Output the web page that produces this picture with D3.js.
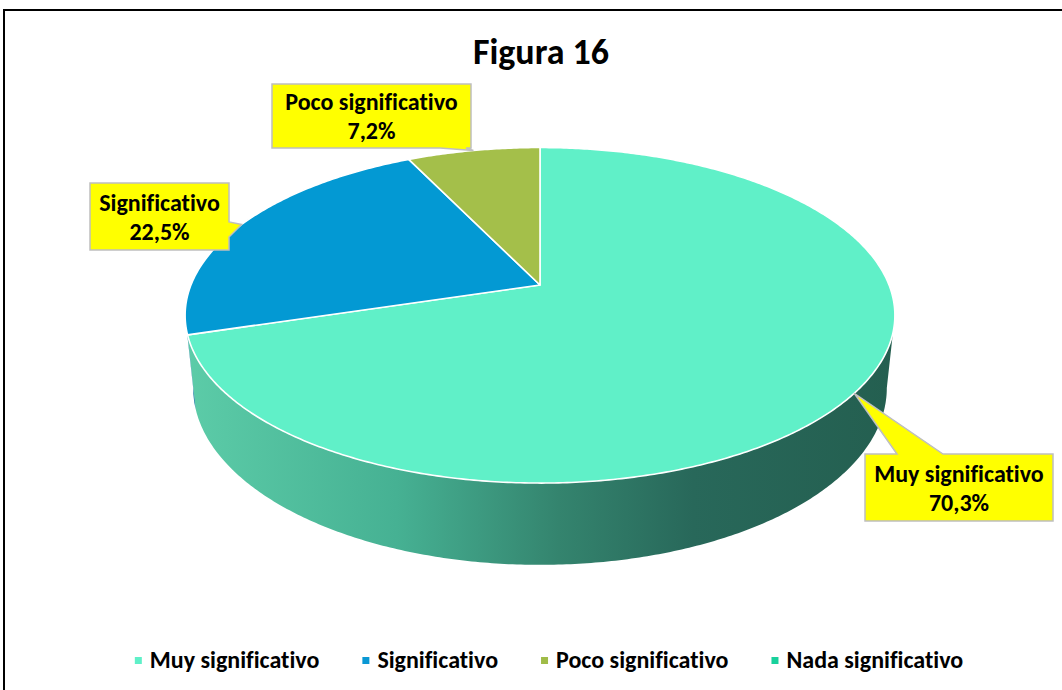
<!DOCTYPE html>
<html><head><meta charset="utf-8">
<script src="https://cdn.jsdelivr.net/npm/d3@7"></script>
<style>body{margin:0;background:#fff} svg{display:block} text{font-variant-ligatures:none;font-feature-settings:"liga" 0}</style>
</head><body>
<svg id="c" width="1062" height="690"></svg>
<script>
const categories = ["Muy significativo", "Significativo", "Poco significativo", "Nada significativo"];
const values = [70.3, 22.5, 7.2, 0];
const topColors = ["#60f0c8", "#0399d3", "#a4bf4a", "#1ccf9c"];
const legendColors = ["#5ff0c8", "#0a98d4", "#a0bc48", "#19d19c"];
const title = "Figura 16";

const FONT = "Carlito, Calibri, Lato, 'Open Sans', sans-serif";
const svg = d3.select("#c");

// outer border
svg.append("rect").attr("x", 4).attr("y", 10).attr("width", 1120).attr("height", 720)
  .attr("fill", "#fff").attr("stroke", "#000").attr("stroke-width", 2);

// title
svg.append("text").attr("x", 541).attr("y", 64).attr("text-anchor", "middle")
  .attr("font-family", FONT).attr("font-weight", 700).attr("font-size", 36).attr("fill", "#000")
  .text(title);

// 3D perspective projection of the pie disc
const cam = { cx: 540, cy: 285, f: 1711, R: 0.204, h: 0.0484, phi: Math.asin(0.465) };
function proj(theta, level) {
  const X = cam.R * Math.sin(theta), Z = cam.R * Math.cos(theta), Y = level ? -cam.h : 0;
  const D = 1 + Z * Math.cos(cam.phi) - Y * Math.sin(cam.phi);
  const v = Z * Math.sin(cam.phi) + Y * Math.cos(cam.phi);
  return [cam.cx + cam.f * X / D, cam.cy - cam.f * v / D];
}
function silhouette(level, right) {
  let best = right ? 0 : Math.PI, bx = right ? -1e9 : 1e9;
  for (let t = right ? 0 : Math.PI; t <= (right ? Math.PI : 2 * Math.PI); t += 0.0005) {
    const x = proj(t, level)[0];
    if (right ? x > bx : x < bx) { bx = x; best = t; }
  }
  return best;
}
const silR = [silhouette(0, true), silhouette(1, true)];
const silL = [silhouette(0, false), silhouette(1, false)];

const pie = d3.pie().sort(null).value(d => d).startAngle(0).endAngle(2 * Math.PI);
const arcs = pie(values);

function arcPts(a0, a1, level) {
  const n = Math.max(2, Math.ceil((a1 - a0) / 0.01));
  return d3.range(n + 1).map(i => proj(a0 + (a1 - a0) * i / n, level));
}
const line = d3.line();

// gradient for side of main slice
const defs = svg.append("defs");
const grad = defs.append("linearGradient").attr("id", "sideGrad")
  .attr("gradientUnits", "userSpaceOnUse").attr("x1", 186).attr("x2", 890).attr("y1", 0).attr("y2", 0);
[[0, "#5ccca8"], [0.3, "#46b193"], [0.53, "#34846e"], [0.72, "#28685a"], [1, "#245f50"]]
  .forEach(([o, c]) => grad.append("stop").attr("offset", o).attr("stop-color", c));

// sides
arcs.forEach((a, i) => {
  if (a.endAngle - a.startAngle <= 0) return;
  const t0 = Math.max(a.startAngle, silR[0]), t1 = Math.min(a.endAngle, silL[0]);
  const b0 = Math.max(a.startAngle, silR[1]), b1 = Math.min(a.endAngle, silL[1]);
  if (t1 <= t0) return;
  const pts = arcPts(t0, t1, 0).concat(arcPts(b0, b1, 1).reverse());
  svg.append("path").attr("d", line(pts) + "Z")
    .attr("fill", i === 0 ? "url(#sideGrad)" : d3.color(topColors[i]).darker(0.9))
    .attr("stroke", "none");
});

// top faces
arcs.forEach((a, i) => {
  if (a.endAngle - a.startAngle <= 0) return;
  const pts = [[cam.cx, cam.cy]].concat(arcPts(a.startAngle, a.endAngle, 0));
  svg.append("path").attr("d", line(pts) + "Z")
    .attr("fill", topColors[i]).attr("stroke", "#fff").attr("stroke-width", 1.6)
    .attr("stroke-linejoin", "round");
});

// callouts (layout only)
const callouts = [
  { x: 865, y: 454, w: 188, h: 67, side: "top", b0: 897, b1: 943 },
  { x: 90, y: 183, w: 139, h: 67, side: "right", b0: 222, b1: 237 },
  { x: 272, y: 84, w: 199, h: 64, side: "bottom", b0: 440, b1: 466 }
];
const fmt = v => d3.format(".1f")(v).replace(".", ",") + "%";
arcs.forEach((a, i) => {
  const c = callouts[i];
  if (!c) return;
  const tip = proj((a.startAngle + a.endAngle) / 2, 0);
  const L = c.x, T = c.y, R = c.x + c.w, B = c.y + c.h;
  const p = [[L, T]];
  if (c.side === "top") p.push([c.b0, T], tip, [c.b1, T]);
  p.push([R, T]);
  if (c.side === "right") p.push([R, c.b0], tip, [R, c.b1]);
  p.push([R, B]);
  if (c.side === "bottom") p.push([c.b1, B], tip, [c.b0, B]);
  p.push([L, B]);
  svg.append("path").attr("d", line(p) + "Z")
    .attr("fill", "#ffff00").attr("stroke", "#bfbfbf").attr("stroke-width", 1.5)
    .attr("stroke-linejoin", "miter");
  const cx = (L + R) / 2, cy = (T + B) / 2;
  const g = svg.append("text").attr("text-anchor", "middle")
    .attr("font-family", FONT).attr("font-weight", 700).attr("font-size", 24).attr("fill", "#000");
  g.append("tspan").attr("x", cx).attr("y", cy - 6).text(categories[i]);
  g.append("tspan").attr("x", cx).attr("y", cy + 23).text(fmt(values[i]));
});

// legend
const leg = svg.append("g");
let x = 0;
categories.forEach((name, i) => {
  const gi = leg.append("g");
  gi.append("rect").attr("x", x).attr("y", -4).attr("width", 7).attr("height", 7).attr("fill", legendColors[i]);
  const t = gi.append("text").attr("x", x + 15).attr("y", 7)
    .attr("font-family", FONT).attr("font-weight", 700).attr("font-size", 24).attr("fill", "#000").text(name);
  x += 15 + t.node().getComputedTextLength() + 43;
});
const total = x - 43;
leg.attr("transform", `translate(${549 - total / 2},661)`);
</script>
</body></html>
